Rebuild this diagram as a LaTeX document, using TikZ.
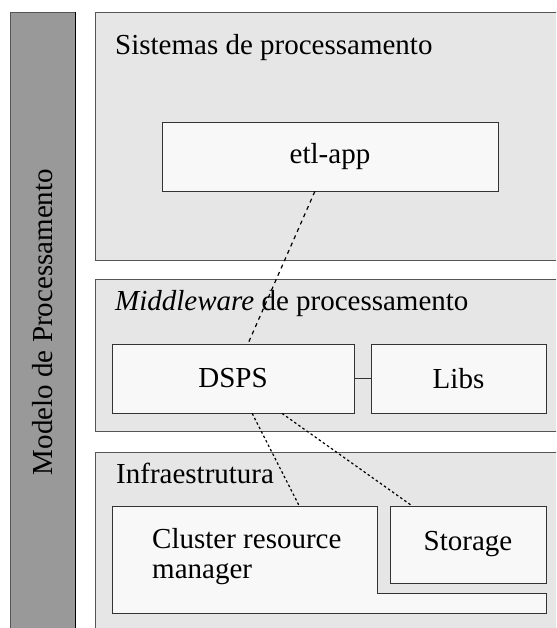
\documentclass[tikz,border=0pt]{standalone}
\usepackage{fontspec}
\setmainfont{Liberation Serif}
\usetikzlibrary{calc}
\definecolor{panelfill}{HTML}{E6E6E6}
\definecolor{boxfill}{HTML}{F8F8F8}
\definecolor{barfill}{HTML}{999999}
\definecolor{edge}{HTML}{555555}
\tikzset{
  panel/.style={draw=edge, fill=panelfill, line width=0.9pt},
  unit/.style={draw=black!80, fill=boxfill, line width=0.9pt, inner sep=0pt},
  title/.style={anchor=base west, inner sep=0pt},
  link/.style={line width=1.2pt, dash pattern=on 4pt off 4pt},
  finelink/.style={line width=1.2pt, dash pattern=on 2.5pt off 2.5pt},
  every node/.style={font=\fontsize{29}{30}\selectfont}
}
\begin{document}
\begin{tikzpicture}[x=1pt, y=-1pt]
\useasboundingbox (0,0) rectangle (556,628);
\clip (0,0) rectangle (556,628);

% side bar with the model name
\draw[draw=edge, fill=barfill, line width=0.9pt] (10.5,12) rectangle (75.5,640);
\draw[black, line width=0.9pt] (75.5,12) -- (75.5,640);
\node[rotate=90] (model) at (43,322) {Modelo de Processamento};

% layer panels
\draw[panel] (95.5,12) rectangle (570,260);
\draw[panel] (95.5,279) rectangle (570,431);
\draw[panel] (95.5,452) rectangle (570,640);

\node[title] (sys) at (115,55) {Sistemas de processamento};
\node[title] (mid) at (115,310) {\textit{Middleware} de processamento};
\node[title] (infra) at (116,483) {Infraestrutura};

% processing systems
\node[unit, minimum width=336pt, minimum height=69pt] (etl) at (330,156.5) {etl-app};

% middleware
\node[unit, minimum width=242pt, minimum height=69pt] (dsps) at (233,378.5) {DSPS};
\node[unit, minimum width=175pt, minimum height=69pt] (libs) at (458.5,378.5) {Libs};
\draw[black!80, line width=0.9pt] (dsps.east) -- (libs.west);

% infrastructure
\draw[draw=black!80, fill=boxfill, line width=0.9pt]
  (112,506) -- (377,506) -- (377,593) -- (546,593) -- (546,613) -- (112,613) -- cycle;
\node[inner sep=0pt, minimum width=265pt, minimum height=87pt] (crm) at (244.5,549.5) {};
\node[anchor=base west, inner sep=0pt, align=left] (crmtext) at (152,578)
  {Cluster resource\\manager};
\node[unit, minimum width=156pt, minimum height=77pt] (storage) at (468,544.5) {};
\node[anchor=base, inner sep=0pt] (storagetext) at (468,550) {Storage};

% dependencies between layers
\draw[link] ($(etl.south west)!0.455!(etl.south east)$) -- ($(dsps.north west)!0.562!(dsps.north east)$);
\draw[finelink] ($(dsps.south west)!0.579!(dsps.south east)$) -- ($(crm.north west)!0.706!(crm.north east)$);
\draw[finelink] ($(dsps.south west)!0.702!(dsps.south east)$) -- ($(storage.north west)!0.141!(storage.north east)$);
\end{tikzpicture}
\end{document}
